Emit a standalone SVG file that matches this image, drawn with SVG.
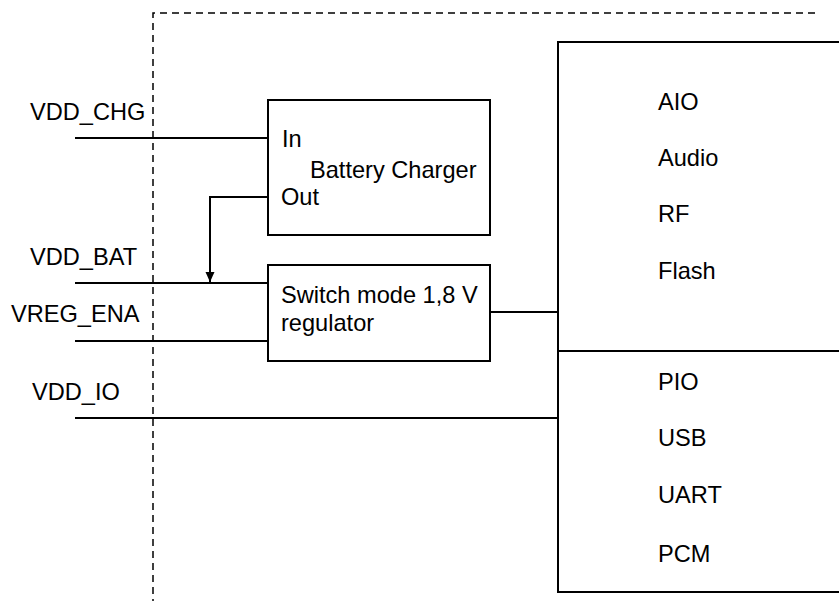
<svg xmlns="http://www.w3.org/2000/svg" width="839" height="601" viewBox="0 0 839 601">
<style>
  text { font-family: "Liberation Sans", Arial, sans-serif; font-size: 23.6px; fill: #000; }
  .box { fill: #fff; stroke: #000; stroke-width: 2; }
  .wire { fill: none; stroke: #000; stroke-width: 2; }
  .dash { fill: none; stroke: #000; stroke-width: 1.5; stroke-dasharray: 7 5; }
</style>
<defs>
  <marker id="arr" markerWidth="12" markerHeight="12" refX="10" refY="5" orient="auto" markerUnits="userSpaceOnUse">
    <path d="M0,0.5 L10,5 L0,9.5 Z" fill="#000"/>
  </marker>
</defs>
<rect width="839" height="601" fill="#fff"/>
<g id="boundary">
  <path class="dash" d="M815,13 H153 V601"/>
</g>
<g id="connectors">
  <path class="wire" d="M75,138 H268"/>
  <path class="wire" d="M75,283 H268"/>
  <path class="wire" d="M75,341 H268"/>
  <path class="wire" d="M75,418 H558"/>
  <path class="wire" d="M490,312 H558"/>
  <path class="wire" d="M268,197 H210 V282" marker-end="url(#arr)"/>
</g>
<g id="signal-labels">
  <text x="30" y="120">VDD_CHG</text>
  <text x="30" y="265">VDD_BAT</text>
  <text x="11" y="322">VREG_ENA</text>
  <text x="32" y="400">VDD_IO</text>
</g>
<g id="battery-charger">
  <rect class="box" x="268" y="100" width="222" height="135"/>
  <text x="282" y="147">In</text>
  <text x="310" y="178">Battery Charger</text>
  <text x="281" y="205">Out</text>
</g>
<g id="regulator">
  <rect class="box" x="268" y="265" width="222" height="96"/>
  <text x="281" y="303">Switch mode 1,8 V</text>
  <text x="281" y="331">regulator</text>
</g>
<g id="core">
  <rect class="box" x="558" y="42" width="290" height="550"/>
  <path class="wire" d="M558,351 H848"/>
  <text x="658" y="110">AIO</text>
  <text x="658" y="166">Audio</text>
  <text x="658" y="222">RF</text>
  <text x="658" y="279">Flash</text>
  <text x="658" y="390">PIO</text>
  <text x="658" y="446">USB</text>
  <text x="658" y="503">UART</text>
  <text x="658" y="562">PCM</text>
</g>
</svg>
